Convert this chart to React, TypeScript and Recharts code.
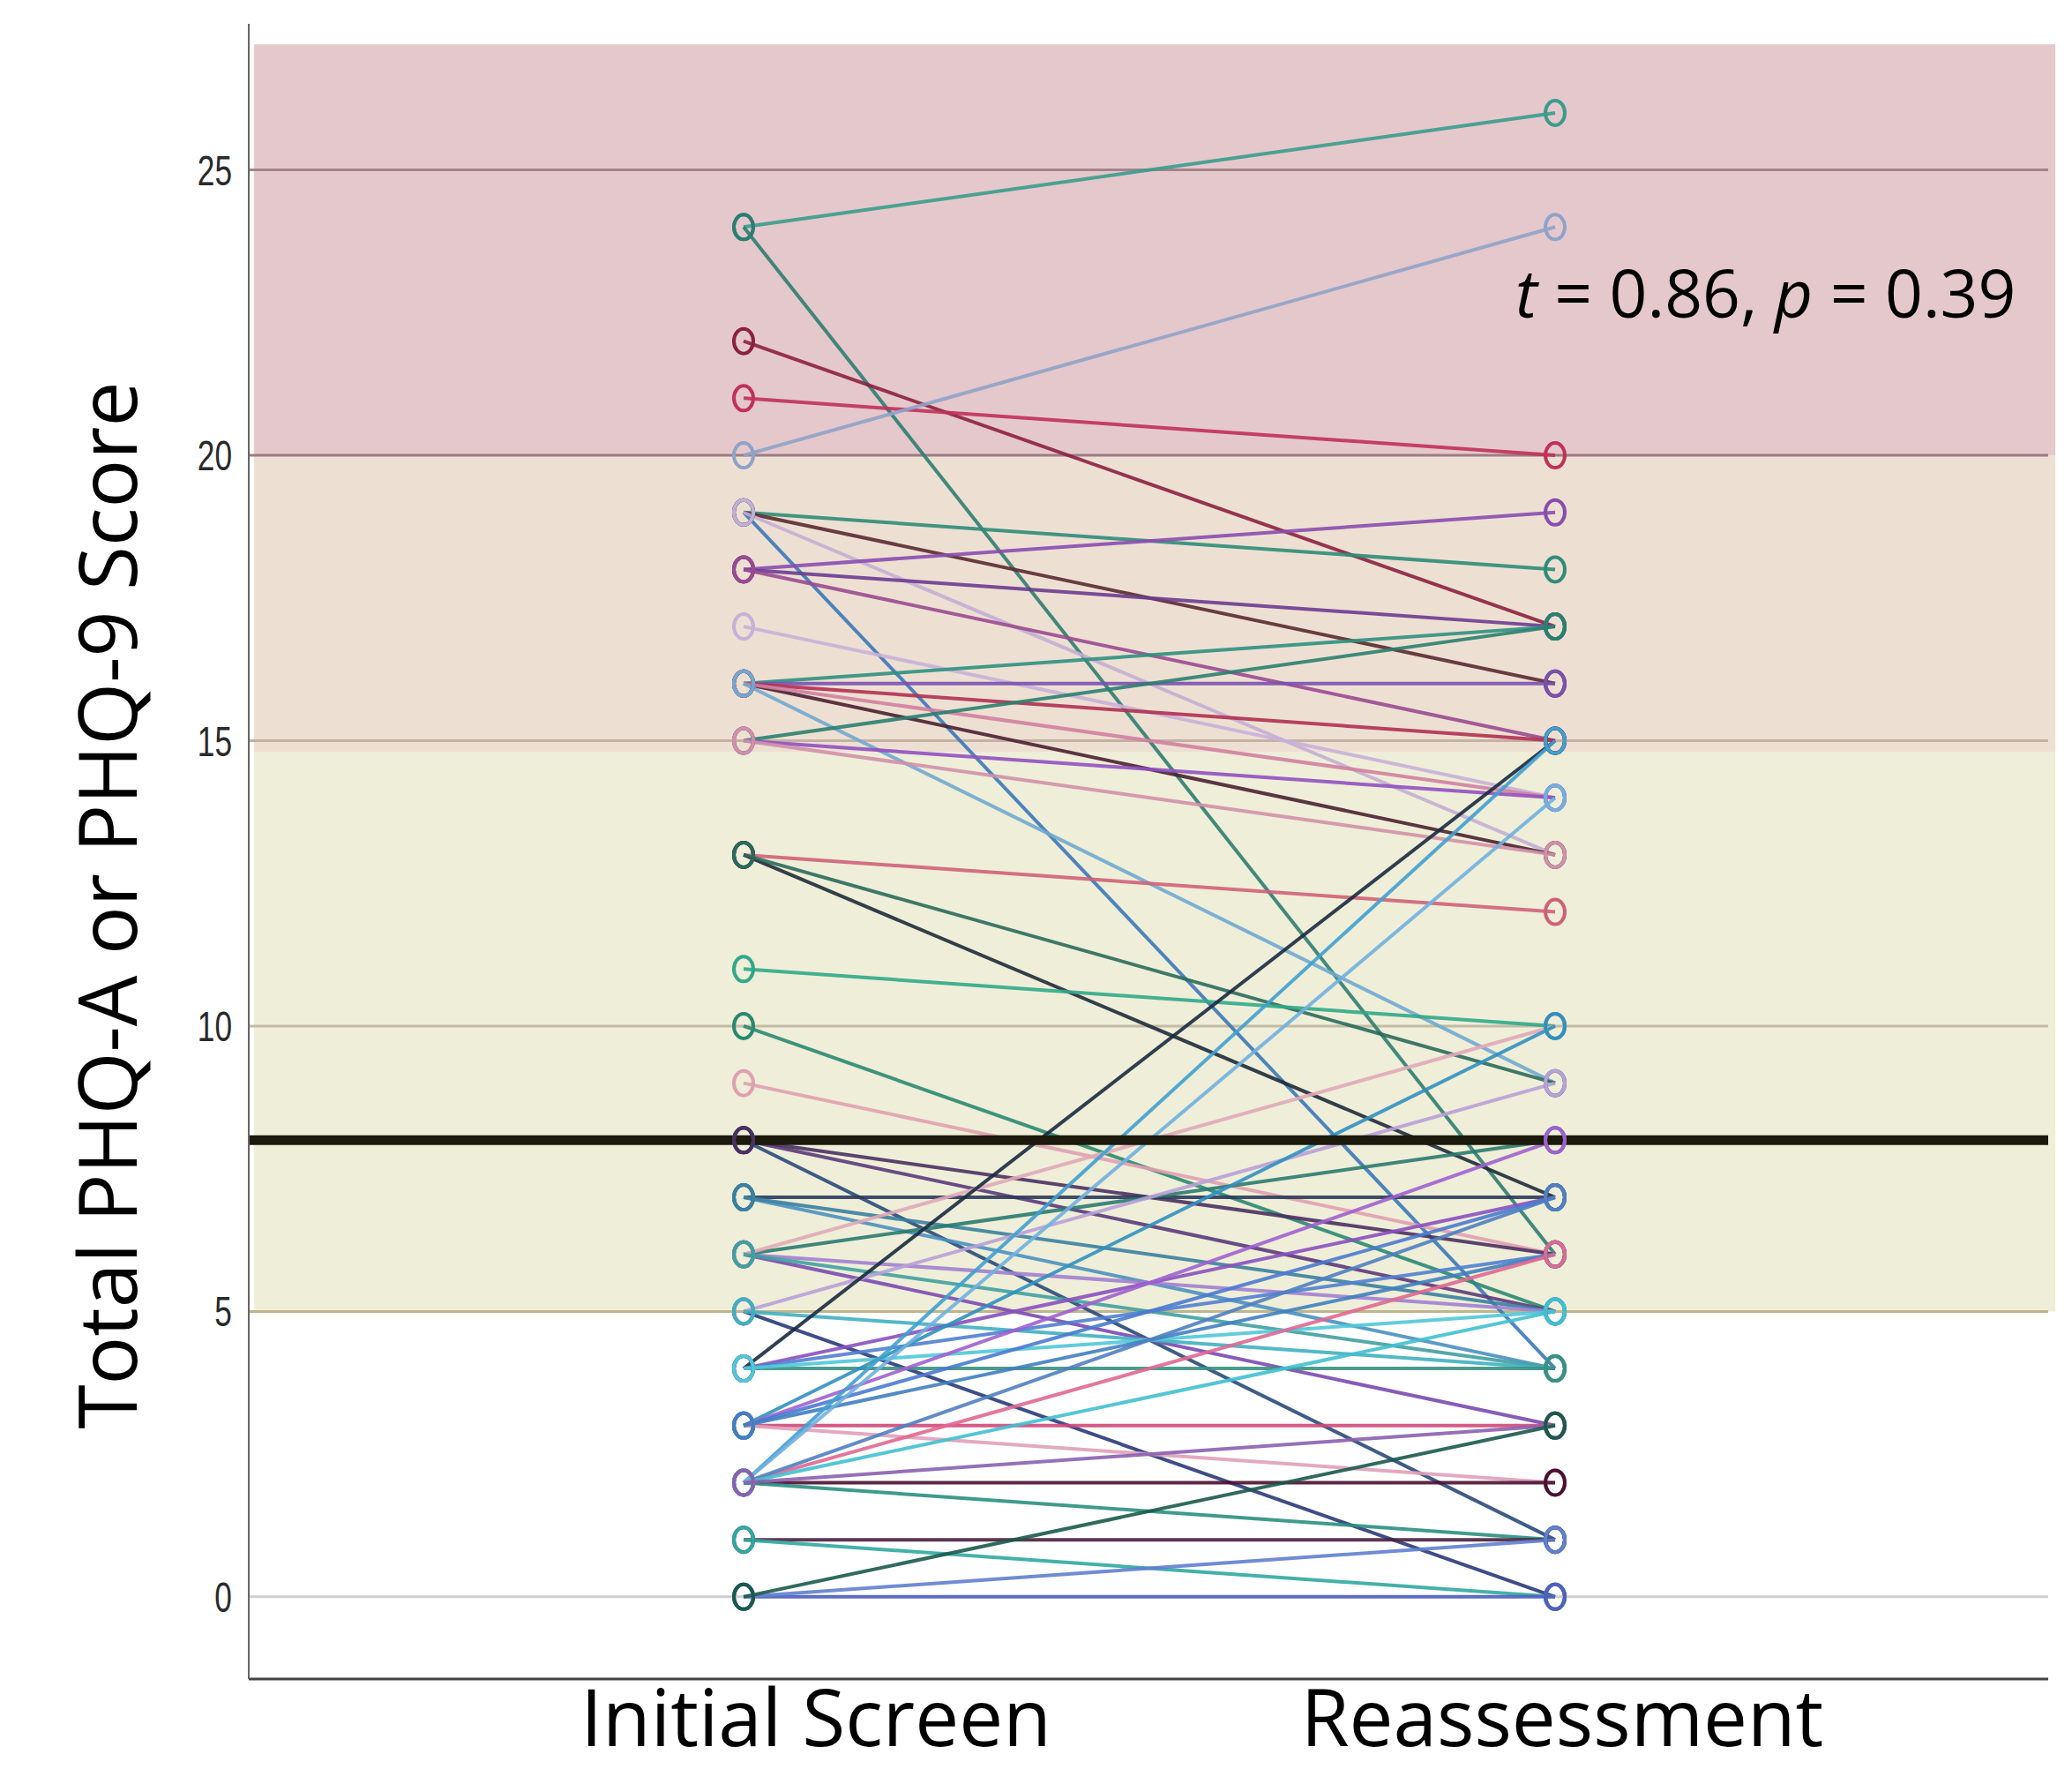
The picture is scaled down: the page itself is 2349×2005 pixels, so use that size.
import React from "react";
import { LineChart, Line, XAxis, YAxis, ReferenceArea, ReferenceLine } from "recharts";

const CATEGORIES = ["Initial Screen", "Reassessment"];

// one entry per participant: initial score, reassessment score, line colour
const INITIAL = [
  24, 24, 22, 21, 20, 19, 19, 19, 19, 18, 18, 18, 17, 16, 16, 16, 16, 16, 16,
  15, 15, 15, 13, 13, 13, 11, 10, 9, 8, 8, 8, 7, 7, 7, 6, 6, 6, 6, 6,
  5, 5, 5, 4, 4, 4, 4, 4, 3, 3, 3, 3, 3, 3, 2, 2, 2, 2, 2, 2, 2, 2,
  1, 1, 0, 0, 0,
];
const REASSESS = [
  26, 6, 17, 20, 24, 18, 16, 4, 13, 19, 17, 15, 14, 17, 16, 15, 13, 14, 9,
  17, 14, 13, 12, 7, 9, 10, 5, 6, 5, 1, 6, 7, 4, 5, 5, 3, 8, 10, 4,
  0, 9, 4, 4, 15, 7, 6, 5, 3, 10, 8, 2, 7, 6, 2, 6, 15, 7, 1, 5, 14, 3,
  1, 0, 0, 1, 3,
];
const COLORS = [
  "#3a9c8c", "#2e7d70", "#8b2040", "#c0305a", "#8fa3c8", "#2e8c78", "#5a2a30", "#3a78b8", "#c4aed4",
  "#8a4cb0", "#6a3c90", "#9a4a90", "#c8b0d8", "#2f9080", "#7a50b0", "#b03050", "#4a2030", "#d080a0", "#70a8d0",
  "#2a8070", "#9050c0", "#d090a8", "#d06078", "#1e2a3a", "#2a6a5a", "#30a888", "#2a8870", "#e0a0b0",
  "#5a3a7a", "#2a4a7a", "#4a3060", "#2a3a5a", "#4a90c0", "#3a80a0", "#a080d0", "#7a4ab0", "#2a7a70",
  "#e0a8b8", "#40a0a0", "#2a3a7a", "#b8a0d8", "#40b0c0", "#3a9080", "#1a2a40", "#8a50c0", "#5080d0",
  "#50c8d8", "#d04878", "#3090c0", "#a060d0", "#e0a0b8", "#4a7ad0", "#4080c0", "#4a1030", "#e06890",
  "#40a0d0", "#5080c0", "#2a9080", "#40c0d0", "#70b0e0", "#8a60b0", "#4a2040", "#30a8a0", "#5060c0",
  "#6080d0", "#1a5a4a",
];

const Y_TICKS = [0, 5, 10, 15, 20, 25];
const GRID_COLORS = ["#cfcfcf", "#bdb68e", "#c2bca6", "#c4b2a2", "#9e7c84", "#a4838b"];
const BANDS = [
  { from: 5, to: 14.8, fill: "#efeed8" },
  { from: 14.8, to: 20, fill: "#ede0d2" },
  { from: 20, to: 27.2, fill: "#e5c8cc" },
];
const CUTOFF = 8;

const data = CATEGORIES.map((name, i) => {
  const row: Record<string, string | number> = { name, band: i };
  INITIAL.forEach((v, k) => {
    row["p" + k] = i === 0 ? v : REASSESS[k];
  });
  return row;
});

const XTick = (props: any) => {
  const { x, y, payload, index } = props;
  return (
    <text
      x={x + (index === 0 ? 82 : 8)}
      y={y + 68}
      textAnchor="middle"
      fontFamily="'Open Sans', sans-serif"
      fontSize={89}
      fill="#000"
    >
      {payload.value}
    </text>
  );
};

const YTick = (props: any) => {
  const { x, y, payload } = props;
  return (
    <text
      transform={`translate(${x} ${y}) scale(0.72 1)`}
      dy={17}
      textAnchor="end"
      fontFamily="'Liberation Sans', Arial, sans-serif"
      fontSize={49}
      fill="#2a2a2a"
    >
      {payload.value}
    </text>
  );
};

const YTitle = (props: any) => {
  const { viewBox } = props;
  const cx = viewBox.x + 120;
  const cy = viewBox.y + viewBox.height / 2 + 61;
  return (
    <text
      x={cx}
      y={cy}
      transform={`rotate(-90 ${cx} ${cy})`}
      textAnchor="middle"
      dominantBaseline="central"
      fontFamily="'Open Sans', sans-serif"
      fontSize={91}
      fill="#000"
    >
      Total PHQ-A or PHQ-9 Score
    </text>
  );
};

export default function App() {
  return (
    <div style={{ position: "absolute", left: 0, top: 0, width: 2349, height: 2005, background: "#fff" }}>
      <LineChart width={2349} height={2005} data={data} margin={{ top: 27, right: 27, bottom: 0, left: 0 }}>
        <XAxis xAxisId="band" dataKey="band" type="number" domain={[0, 1]} hide />
        {BANDS.map((b) => (
          <ReferenceArea
            key={b.from}
            xAxisId="band"
            x1={0.003}
            x2={1.004}
            y1={b.from}
            y2={b.to}
            fill={b.fill}
            fillOpacity={1}
            stroke="none"
            ifOverflow="visible"
          />
        ))}
        {Y_TICKS.map((t, i) => (
          <ReferenceLine key={t} xAxisId="band" y={t} stroke={GRID_COLORS[i]} strokeWidth={3} />
        ))}
        <XAxis
          dataKey="name"
          type="category"
          padding={{ left: 561, right: 559 }}
          height={102}
          tickLine={false}
          tickMargin={2}
          axisLine={{ stroke: "#444", strokeWidth: 3 }}
          tick={<XTick />}
          interval={0}
        />
        <YAxis
          type="number"
          domain={[-1.44, 27.56]}
          ticks={Y_TICKS}
          width={282}
          tickLine={false}
          tickMargin={13}
          axisLine={{ stroke: "#666", strokeWidth: 2 }}
          tick={<YTick />}
          label={<YTitle />}
        />
        {INITIAL.map((_, k) => (
          <Line
            key={k}
            dataKey={"p" + k}
            type="linear"
            stroke={COLORS[k % COLORS.length]}
            strokeWidth={4}
            strokeOpacity={0.9}
            isAnimationActive={false}
            dot={(p: any) => (
              <ellipse
                key={`d${k}-${p.index}`}
                cx={p.cx}
                cy={p.cy}
                rx={11}
                ry={14}
                fill="none"
                stroke={COLORS[k % COLORS.length]}
                strokeWidth={4}
              />
            )}
            activeDot={false}
          />
        ))}
        <ReferenceLine xAxisId="band" y={CUTOFF} stroke="#1c1a0c" strokeWidth={11} />
      </LineChart>
      <svg width={2349} height={2005} style={{ position: "absolute", left: 0, top: 0, pointerEvents: "none" }}>
        <text x={1718} y={360} fontFamily="'Open Sans', sans-serif" fontSize={75} fill="#000">
          <tspan fontStyle="italic">t</tspan> = 0.86, <tspan fontStyle="italic">p</tspan> = 0.39
        </text>
      </svg>
    </div>
  );
}
